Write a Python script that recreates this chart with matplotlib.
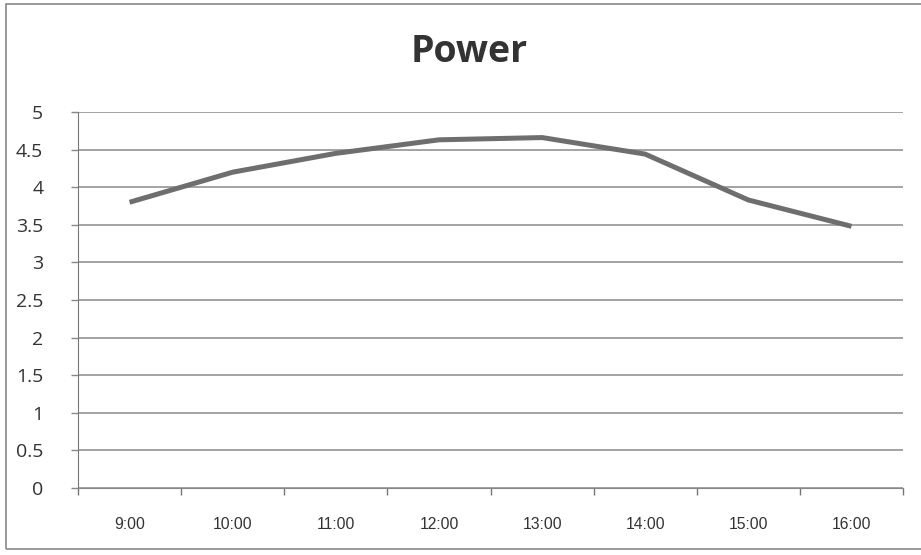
import numpy as np
import matplotlib.pyplot as plt
from matplotlib.patches import Rectangle

# chart data
hours = ['9:00', '10:00', '11:00', '12:00', '13:00', '14:00', '15:00', '16:00']
power = [3.80, 4.20, 4.45, 4.63, 4.66, 4.44, 3.83, 3.48]
y_ticks = [0, 0.5, 1, 1.5, 2, 2.5, 3, 3.5, 4, 4.5, 5]

fig = plt.figure(figsize=(9.21, 5.55), dpi=100)
ax = fig.add_axes([0.0847, 0.1207, 0.8958, 0.6775])

x = np.arange(len(hours))
ax.plot(x, power, color='#6e6e6e', linewidth=3.6, solid_capstyle='butt')

ax.set_xlim(-0.5, len(hours) - 0.5)
ax.set_ylim(0, 5)
ax.set_yticks(y_ticks)
ax.set_yticklabels([f'{t:g}' for t in y_ticks], fontsize=14, family='Open Sans', color='#333333')
ax.set_xticks(x)
ax.set_xticklabels(hours, fontsize=11.3, family='Liberation Sans', color='#333333')
ax.set_xticks(np.arange(len(hours) + 1) - 0.5, minor=True)

ax.tick_params(axis='x', which='major', length=0, pad=21)
ax.tick_params(axis='x', which='minor', length=5, width=1, color='#777777', direction='out')
ax.tick_params(axis='y', length=5, width=1, color='#888888', pad=20)

ax.yaxis.grid(True, color='#8a8a8a', linewidth=1.1)
ax.set_axisbelow(True)
for side in ['top', 'right']:
    ax.spines[side].set_visible(False)
ax.spines['left'].set_color('#777777')
ax.spines['bottom'].set_color('#888888')

fig.text(0.509, 0.906, 'Power', ha='center', va='center', fontsize=27,
         fontweight='bold', family='Open Sans', color='#333333')

# outer frame of the chart (right edge cut off in the reference)
fig.patches.append(Rectangle((0.0065, 0.01), 1.1, 0.983, transform=fig.transFigure,
                             fill=False, edgecolor='#888888', linewidth=1.2))

fig.savefig('out.png', dpi=100)
